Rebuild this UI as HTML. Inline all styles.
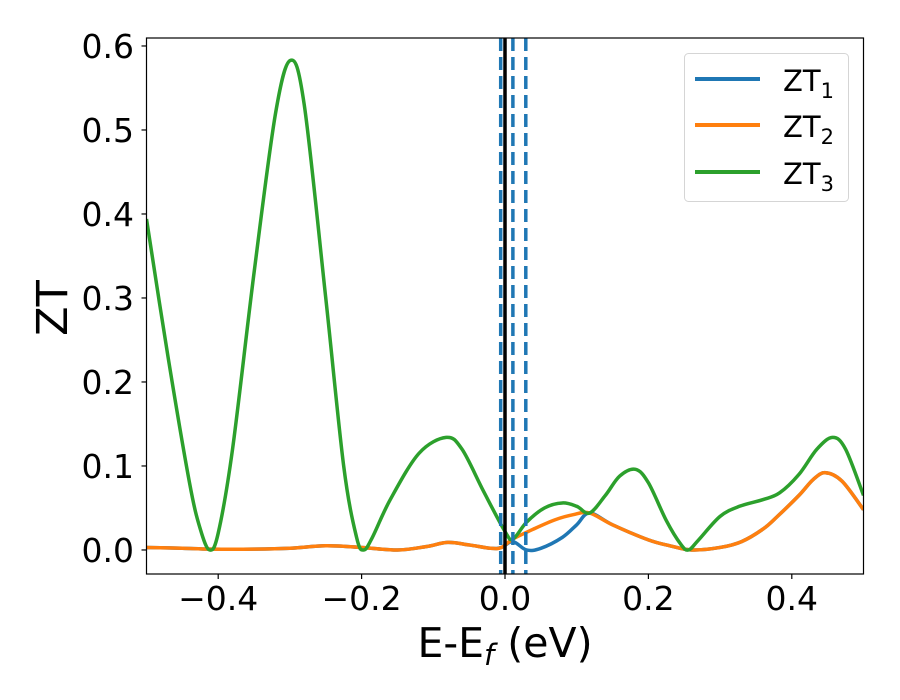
<!DOCTYPE html>
<html><head><meta charset="utf-8"><style>
html,body{margin:0;padding:0;background:#fff;}
svg{display:block;font-family:"DejaVu Sans","Liberation Sans",sans-serif;}
</style></head><body>
<svg id="chart" width="900" height="700" viewBox="0 0 900 700">
<rect x="0" y="0" width="900" height="700" fill="#fff"/>
<g id="plot"></g>
<g id="axes"></g>
<text x="505" y="657" font-size="41" text-anchor="middle">E-E<tspan font-style="italic" font-size="29" dy="8">f</tspan><tspan dy="-8"> (eV)</tspan></text>
<text transform="translate(67,308) rotate(-90)" font-size="43" text-anchor="middle">ZT</text>
<g>
<rect x="684.5" y="53.5" width="164" height="148" rx="4" fill="#fff" stroke="#d5d5d5" stroke-width="1"/>
<g><line x1="695" y1="79" x2="760" y2="79" stroke="#1f77b4" stroke-width="4"/><text x="783" y="91" font-size="29">ZT<tspan font-size="21" dy="7">1</tspan></text></g>
<g><line x1="695" y1="125" x2="760" y2="125" stroke="#ff7f0e" stroke-width="4"/><text x="783" y="137" font-size="29">ZT<tspan font-size="21" dy="7">2</tspan></text></g>
<g><line x1="695" y1="172" x2="760" y2="172" stroke="#2ca02c" stroke-width="4"/><text x="783" y="184" font-size="29">ZT<tspan font-size="21" dy="7">3</tspan></text></g>
</g>
</svg>
<script>
const xTicks=[-0.4,-0.2,0.0,0.2,0.4];
const xTickLabels=["\u22120.4","\u22120.2","0.0","0.2","0.4"];
const yTicks=[0,0.1,0.2,0.3,0.4,0.5,0.6];
const yTickLabels=["0.0","0.1","0.2","0.3","0.4","0.5","0.6"];
const zt3X=[-0.5,-0.47,-0.44,-0.425,-0.412,-0.4,-0.38,-0.35,-0.32,-0.299,-0.28,-0.25,-0.225,-0.207,-0.197,-0.185,-0.16,-0.12,-0.082,-0.06,-0.03,0.0,0.011,0.03,0.055,0.08,0.1,0.118,0.14,0.16,0.182,0.2,0.225,0.245,0.256,0.27,0.3,0.327,0.36,0.383,0.41,0.435,0.457,0.475,0.5];
const zt3Y=[0.394,0.23,0.08,0.025,0.0,0.02,0.12,0.33,0.52,0.583,0.53,0.3,0.1,0.015,0.0,0.015,0.06,0.115,0.134,0.12,0.07,0.022,0.013,0.033,0.05,0.056,0.052,0.044,0.065,0.088,0.096,0.08,0.035,0.007,0.0,0.012,0.04,0.052,0.06,0.068,0.09,0.12,0.134,0.12,0.065];
const zt2X=[-0.5,-0.45,-0.41,-0.35,-0.3,-0.25,-0.2,-0.15,-0.11,-0.08,-0.05,-0.02,-0.005,0.011,0.04,0.07,0.095,0.118,0.15,0.2,0.23,0.26,0.3,0.33,0.36,0.38,0.41,0.43,0.447,0.47,0.5];
const zt2Y=[0.003,0.002,0.001,0.001,0.002,0.005,0.003,0.0,0.004,0.009,0.006,0.002,0.003,0.013,0.025,0.036,0.042,0.044,0.03,0.012,0.005,0.0,0.003,0.01,0.025,0.04,0.065,0.084,0.092,0.082,0.048];
const zt1X=[-0.5,-0.45,-0.41,-0.35,-0.3,-0.25,-0.2,-0.15,-0.11,-0.08,-0.05,-0.02,-0.005,0.011,0.03,0.05,0.08,0.1,0.118,0.15,0.2,0.23,0.26,0.3,0.33,0.36,0.38,0.41,0.43,0.447,0.47,0.5];
const zt1Y=[0.003,0.002,0.001,0.001,0.002,0.005,0.003,0.0,0.004,0.009,0.006,0.002,0.003,0.01,0.0,0.002,0.015,0.03,0.044,0.03,0.012,0.005,0.0,0.003,0.01,0.025,0.04,0.065,0.084,0.092,0.082,0.048];
const vDashed=[-0.006,0.011,0.029];
const vSolid=[0.0];

const X0=146.5,X1=863.5,Y0=38,Y1=574;
const xMin=-0.5,xMax=0.5,yMin=-0.0286,yMax=0.6095;
function sx(v){return X0+(v-xMin)/(xMax-xMin)*(X1-X0);}
function sy(v){return Y1-(v-yMin)/(yMax-yMin)*(Y1-Y0);}
const NS="http://www.w3.org/2000/svg";
const plot=document.getElementById('plot'),axes=document.getElementById('axes');
function mk(t,a,p){const e=document.createElementNS(NS,t);for(const k in a)e.setAttribute(k,a[k]);p.appendChild(e);return e;}
function pathFrom(xs,ys){
 const p=xs.map((x,i)=>[sx(x),sy(ys[i])]);
 let d="M"+p[0][0].toFixed(2)+","+p[0][1].toFixed(2);
 for(let i=0;i<p.length-1;i++){
  const p0=p[Math.max(0,i-1)],p1=p[i],p2=p[i+1],p3=p[Math.min(p.length-1,i+2)];
  const t=0.5/3;
  const c1=[p1[0]+(p2[0]-p0[0])*t,p1[1]+(p2[1]-p0[1])*t];
  const c2=[p2[0]-(p3[0]-p1[0])*t,p2[1]-(p3[1]-p1[1])*t];
  d+=" C"+c1.map(v=>v.toFixed(2)).join(",")+" "+c2.map(v=>v.toFixed(2)).join(",")+" "+p2.map(v=>v.toFixed(2)).join(",");
 }
 return d;
}
const clip=mk('clipPath',{id:'clp'},mk('defs',{},plot));
mk('rect',{x:X0,y:Y0,width:X1-X0,height:Y1-Y0},clip);
const g=mk('g',{'clip-path':'url(#clp)'},plot);
const s1=mk('path',{d:pathFrom(zt1X,zt1Y),fill:'none',stroke:'#1f77b4','stroke-width':3.5},g);


const s2=mk('path',{d:pathFrom(zt2X,zt2Y),fill:'none',stroke:'#ff7f0e','stroke-width':3.5},g);


const s3=mk('path',{d:pathFrom(zt3X,zt3Y),fill:'none',stroke:'#2ca02c','stroke-width':3.5},g);


vSolid.forEach(v=>{const l=mk('line',{x1:sx(v),x2:sx(v),y1:Y0,y2:Y1,stroke:'#000','stroke-width':3.5},g);
 
 });
vDashed.forEach(v=>{const l=mk('line',{x1:sx(v),x2:sx(v),y1:Y0,y2:Y1,stroke:'#1f77b4','stroke-width':3.5,'stroke-dasharray':'13,6'},g);
 
 });
const fr=mk('rect',{x:X0,y:Y0,width:X1-X0,height:Y1-Y0,fill:'none',stroke:'#000','stroke-width':1.2},axes);


xTicks.forEach((v,i)=>{const x=sx(v);mk('line',{x1:x,x2:x,y1:Y1,y2:Y1+5,stroke:'#000','stroke-width':1.2},axes);
 const t=mk('text',{x:x,y:610,'font-size':33,'text-anchor':'middle'},axes);t.textContent=xTickLabels[i];
 
 });
yTicks.forEach((v,i)=>{const y=sy(v);mk('line',{x1:X0-5,x2:X0,y1:y,y2:y,stroke:'#000','stroke-width':1.2},axes);
 const t=mk('text',{x:134,y:y+12,'font-size':33,'text-anchor':'end'},axes);t.textContent=yTickLabels[i];
 
 });
</script>
</body></html>
